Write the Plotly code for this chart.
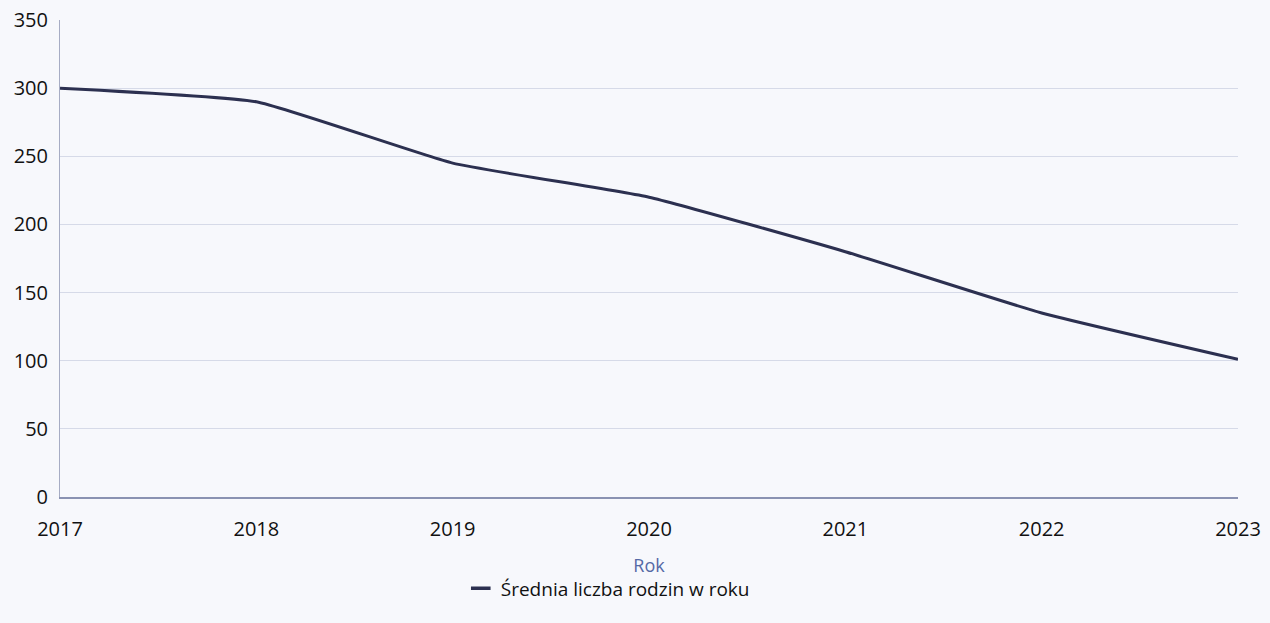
import plotly.graph_objects as go

years = [2017, 2018, 2019, 2020, 2021, 2022, 2023]
families = [300, 290, 245, 220, 180, 135, 101]
series_name = "Średnia liczba rodzin w roku"
x_title = "Rok"
y_ticks = [0, 50, 100, 150, 200, 250, 300, 350]

LINE_COLOR = "#2c3050"

fig = go.Figure()
fig.add_trace(go.Scatter(
    x=years, y=families, mode="lines", name=series_name, showlegend=False,
    line=dict(color=LINE_COLOR, width=3, shape="spline", smoothing=0.4),
))
# legend-only entry with a short dash symbol, as in the original legend
fig.add_trace(go.Scatter(
    x=[None], y=[None], mode="markers", name=series_name, showlegend=True,
    marker=dict(symbol="line-ew-open", size=14, color=LINE_COLOR,
                line=dict(color=LINE_COLOR, width=3.5)),
))

fig.update_layout(
    width=1270, height=623,
    margin=dict(l=60, r=32, t=20, b=126),
    paper_bgcolor="#f7f8fc", plot_bgcolor="#f7f8fc",
    font=dict(family="Open Sans, sans-serif", size=20, color="#111111"),
    showlegend=True,
    legend=dict(orientation="h", x=0.465, xanchor="center", y=-0.152, yanchor="top",
                font=dict(size=19, color="#111111"), itemwidth=30, bgcolor="rgba(0,0,0,0)"),
)
fig.update_xaxes(
    range=[2017, 2023], tickvals=years, ticktext=[str(y) for y in years],
    showgrid=False, showline=True, linecolor="#8a92b2", linewidth=2,
    ticks="", ticklabelstandoff=13, zeroline=False, automargin=False,
    tickfont=dict(size=20),
    title=dict(text=x_title, font=dict(size=18, color="#5569a6"), standoff=18),
)
fig.update_yaxes(
    range=[0, 350], tickvals=y_ticks,
    showgrid=True, gridcolor="#d6dae8", gridwidth=1,
    showline=True, linecolor="#a6acc4", linewidth=1,
    ticks="", ticklabelstandoff=7, zeroline=False, automargin=False,
    tickfont=dict(size=20),
)

fig.write_html(
    "out.html",
    config={"displayModeBar": False},
    post_script="document.body.style.margin='0';document.body.style.overflow='hidden';",
)
